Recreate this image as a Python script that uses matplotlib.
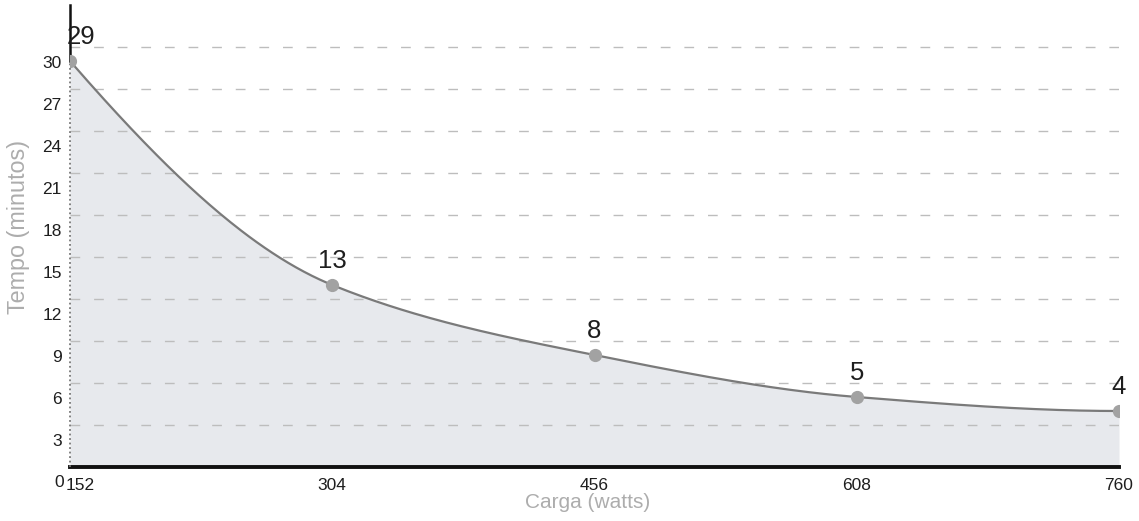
import matplotlib
matplotlib.use("Agg")
import matplotlib.pyplot as plt
import matplotlib.transforms as mtransforms
import numpy as np

plt.rcParams["font.family"] = ["Liberation Sans", "DejaVu Sans"]

# data
carga = [152, 304, 456, 608, 760]
tempo = [29, 13, 8, 5, 4]
rotulos = ["29", "13", "8", "5", "4"]
y_ticks = [0, 3, 6, 9, 12, 15, 18, 21, 24, 27, 30]
x_ticks = [152, 304, 456, 608, 760]


def pchip(x, y, xs):
    # monotone cubic (Fritsch-Carlson), just for the smooth look of the line
    x = np.asarray(x, float)
    y = np.asarray(y, float)
    h = np.diff(x)
    d = np.diff(y) / h
    m = np.zeros_like(y)
    for i in range(1, len(x) - 1):
        if d[i - 1] * d[i] > 0:
            w1 = 2 * h[i] + h[i - 1]
            w2 = h[i] + 2 * h[i - 1]
            m[i] = (w1 + w2) / (w1 / d[i - 1] + w2 / d[i])
    # three point end slopes
    m[0] = ((2 * h[0] + h[1]) * d[0] - h[0] * d[1]) / (h[0] + h[1])
    m[-1] = ((2 * h[-1] + h[-2]) * d[-1] - h[-1] * d[-2]) / (h[-1] + h[-2])
    if m[-1] * d[-1] < 0:
        m[-1] = 0
    idx = np.clip(np.searchsorted(x, xs) - 1, 0, len(x) - 2)
    t = (xs - x[idx]) / h[idx]
    h00 = 2 * t**3 - 3 * t**2 + 1
    h10 = t**3 - 2 * t**2 + t
    h01 = -2 * t**3 + 3 * t**2
    h11 = t**3 - t**2
    return h00 * y[idx] + h10 * h[idx] * m[idx] + h01 * y[idx + 1] + h11 * h[idx] * m[idx + 1]


fig = plt.figure(figsize=(11.39, 5.21), dpi=100)
ax = fig.add_axes([70 / 1139, 1 - 467 / 521, 1049 / 1139, 462 / 521])

xs = np.linspace(carga[0], carga[-1], 400)
ys = pchip(carga, tempo, xs)

ax.fill_between(xs, 0, ys, color="#e7e9ed", zorder=0.4, lw=0)
ax.plot(xs, ys, color="#7a7a7a", lw=1.6, zorder=3)
ax.plot(carga, tempo, "o", color="#a2a2a2", markersize=8.5, zorder=4)
# dotted edge of the area under the first point
ax.plot([carga[0], carga[0]], [0, tempo[0]], color="#777777", lw=1.3, ls=(0, (1, 1.5)), zorder=2.6,
        clip_on=False)

for x, y, s in zip(carga, tempo, rotulos):
    dx = 8 if x == carga[0] else 0
    ax.annotate(s, (x, y), xytext=(dx, 17), textcoords="offset points",
                ha="center", va="center", fontsize=18.5, color="#1e1e1e", zorder=5)

ax.set_xlim(152, 760)
ax.set_ylim(0, 33)
ax.set_yticks(y_ticks)
ax.set_xticks(x_ticks)
ax.tick_params(length=0, labelsize=12.5, labelcolor="#1e1e1e")
ax.tick_params(axis="y", pad=6)
ax.tick_params(axis="x", pad=8)

# tick labels in the scan sit a bit below their gridlines
shift = mtransforms.ScaledTranslation(0, -15 / 100, fig.dpi_scale_trans)
for lab in ax.get_yticklabels():
    lab.set_transform(lab.get_transform() + shift)
zero = ax.get_yticklabels()[0]
zero.set_transform(zero.get_transform() + mtransforms.ScaledTranslation(2 / 100, 1 / 100, fig.dpi_scale_trans))
first = ax.get_xticklabels()[0]
first.set_transform(first.get_transform() + mtransforms.ScaledTranslation(10 / 100, 0, fig.dpi_scale_trans))

ax.yaxis.grid(True, color="#bdbdbd", lw=1, linestyle=(0, (7, 10)))
ax.set_axisbelow(True)

for side in ["top", "right"]:
    ax.spines[side].set_visible(False)
ax.spines["left"].set_bounds(tempo[0], 33)
ax.spines["left"].set_linewidth(1.8)
ax.spines["left"].set_color("#111111")
ax.spines["bottom"].set_linewidth(2.8)
ax.spines["bottom"].set_color("#111111")

fig.text(19 / 1139, 1 - 227 / 521, "Tempo (minutos)", rotation=90, ha="center", va="center",
         fontsize=16.8, color="#adadad")
fig.text(588 / 1139, 1 - 503 / 521, "Carga (watts)", ha="center", va="center",
         fontsize=15, color="#adadad")

fig.savefig("out.png", dpi=100)
